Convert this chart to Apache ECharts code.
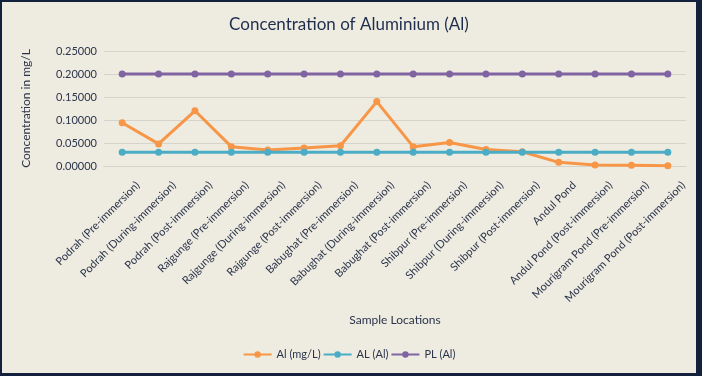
<!DOCTYPE html>
<html>
<head>
<meta charset="utf-8">
<script src="https://cdn.jsdelivr.net/npm/echarts@6/dist/echarts.min.js"></script>
<style>
html,body{margin:0;padding:0;background:#14213d;}
#frame{position:absolute;left:2px;top:2px;width:694px;height:371px;background:#EEEBE1;}
#chart{width:694px;height:371px;}
</style>
</head>
<body>
<div id="frame"><div id="chart"></div></div>
<script>
const categories = [
  'Podrah (Pre-immersion)','Podrah (During-immersion)','Podrah (Post-immersion)',
  'Rajgunge (Pre-immersion)','Rajgunge (During-immersion)','Rajgunge (Post-immersion)',
  'Babughat (Pre-immersion)','Babughat (During-immersion)','Babughat (Post-immersion)',
  'Shibpur (Pre-immersion)','Shibpur (During-immersion)','Shibpur (Post-immersion)',
  'Andul Pond','Andul Pond (Post-immersion)','Mourigram Pond (Pre-immersion)','Mourigram Pond (Post-immersion)'
];
const alValues = [0.094,0.048,0.120,0.042,0.035,0.039,0.044,0.140,0.042,0.051,0.036,0.031,0.008,0.002,0.0015,0.0008];
const alLimit = [0.03,0.03,0.03,0.03,0.03,0.03,0.03,0.03,0.03,0.03,0.03,0.03,0.03,0.03,0.03,0.03];
const plLimit = [0.2,0.2,0.2,0.2,0.2,0.2,0.2,0.2,0.2,0.2,0.2,0.2,0.2,0.2,0.2,0.2];
const seriesNames = ['Al (mg/L)','AL (Al)','PL (Al)'];
const yTicks = {min:0, max:0.25, interval:0.05};

const font = 'Lato, "Open Sans", sans-serif';
const txt = '#2b344a';
const chart = echarts.init(document.getElementById('chart'));
function line(name, data, color){
  return {name, type:'line', data, symbol:'circle', symbolSize:7,
    lineStyle:{width:3, color}, itemStyle:{color}, z: 2};
}
chart.setOption({
  backgroundColor:'#EEEBE1',
  animation:false,
  textStyle:{fontFamily:font},
  title:{text:'Concentration of Aluminium (Al)', left:'center', top:9,
    textStyle:{fontFamily:font, fontSize:17, fontWeight:'normal', color:'#1f2d4d'}},
  grid:{left:102, right:10, top:49, bottom:207},
  legend:{bottom:8, left:'center', itemWidth:28, itemHeight:8, itemGap:2,
    textStyle:{fontFamily:font, fontSize:11, color:txt},
    data:seriesNames},
  xAxis:{type:'category', data:categories, boundaryGap:true,
    name:'Sample Locations', nameLocation:'middle', nameGap:148,
    nameTextStyle:{fontFamily:font, fontSize:12, color:txt},
    axisLine:{show:true, lineStyle:{color:'#d6d3ca'}}, axisTick:{show:false},
    axisLabel:{rotate:45, fontSize:11, color:txt, margin:33, padding:[0,-22,0,0], interval:0, fontFamily:font}},
  yAxis:{type:'value', min:yTicks.min, max:yTicks.max, interval:yTicks.interval,
    name:'Concentration in mg/L', nameLocation:'middle', nameGap:72,
    nameTextStyle:{fontFamily:font, fontSize:12, color:txt},
    axisLine:{show:false}, axisTick:{show:false},
    axisLabel:{formatter:v=>v.toFixed(5), fontSize:11, color:txt, margin:7, fontFamily:font},
    splitLine:{lineStyle:{color:'#d6d3ca'}}},
  series:[
    line(seriesNames[0], alValues, '#F79646'),
    line(seriesNames[1], alLimit, '#4BACC6'),
    line(seriesNames[2], plLimit, '#8064A2')
  ]
});
</script>
</body>
</html>
